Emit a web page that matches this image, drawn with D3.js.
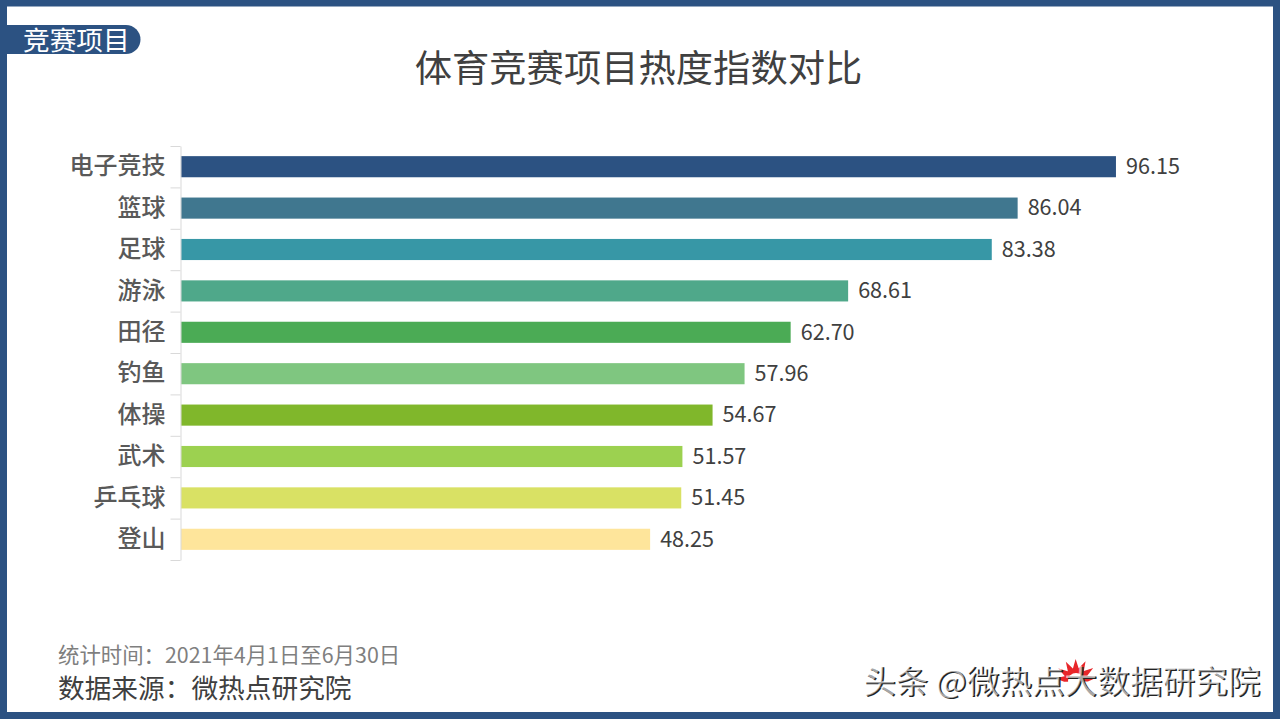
<!DOCTYPE html>
<html><head><meta charset="utf-8">
<script src="https://cdn.jsdelivr.net/npm/d3@7/dist/d3.min.js"></script>
<style>html,body{margin:0;padding:0;background:#fff;overflow:hidden}svg{display:block}text{font-family:"Noto Sans CJK SC","Noto Sans",sans-serif}</style>
</head><body><svg id="c" width="1280" height="720"></svg>
<script>
const categories=["电子竞技","篮球","足球","游泳","田径","钓鱼","体操","武术","乒乓球","登山"];
const values=[96.15,86.04,83.38,68.61,62.70,57.96,54.67,51.57,51.45,48.25];
const barColors=["#2c5282","#40778f","#3797a6","#4fa88a","#4bab55","#7fc680","#80b72b","#9cd150","#d9e164","#fee59b"];
const titleText="体育竞赛项目热度指数对比";
const badgeText="竞赛项目";
const periodText="统计时间:2021年4月1日至6月30日";
const sourceText="数据来源:微热点研究院";
const watermarkText="头条 @微热点大数据研究院";
const combAngles=[-85,-57,-29,-1,27,55,83];

const svg=d3.select("#c");
const frame="#2c5282";
svg.append("rect").attr("x",3.5).attr("y",3).attr("width",1273).attr("height",712.5)
  .attr("fill","#fff").attr("stroke",frame).attr("stroke-width",7);

svg.append("path").attr("d","M7 25H126a14.5 14.5 0 0 1 0 29H7Z").attr("fill",frame);
svg.append("text").attr("x",23).attr("y",50).attr("font-size",26.7).attr("fill","#fff").text(badgeText);
svg.append("text").attr("x",638.5).attr("y",82).attr("text-anchor","middle").attr("font-size",37.3).attr("fill","#404040").text(titleText);

const x=d3.scaleLinear().domain([0,100]).range([180.9,1153.4]);
const y=d3.scaleBand().domain(categories).range([146,560]).paddingInner(0.49).paddingOuter(0.245);
const step=y.step();

const g=svg.append("g");
g.selectAll("rect.bar").data(categories).join("rect").attr("class","bar")
  .attr("x",x(0)).attr("y",d=>y(d)).attr("width",(d,i)=>x(values[i])-x(0)).attr("height",y.bandwidth())
  .attr("fill",(d,i)=>barColors[i]);

const axis=d3.axisLeft(y).tickSize(0).tickPadding(15);
const ax=g.append("g").attr("transform","translate(180.5,0)").call(axis);
ax.select(".domain").attr("stroke","#d9d9d9").attr("stroke-width",1);
ax.selectAll("text").attr("font-size",24).attr("fill","#595959").attr("font-weight",500).attr("font-family",'"Noto Sans CJK SC"');
const seps=d3.range(categories.length+1).map(i=>146.5+i*step);
g.selectAll("line.sep").data(seps).join("line").attr("class","sep")
  .attr("x1",170.5).attr("x2",180.5).attr("y1",d=>d).attr("y2",d=>d).attr("stroke","#d9d9d9");

g.selectAll("text.val").data(categories).join("text").attr("class","val")
  .attr("x",(d,i)=>x(values[i])+10).attr("y",d=>y(d)+y.bandwidth()/2-0.5).attr("dy","0.36em")
  .attr("font-size",21.6).attr("fill","#404040").text((d,i)=>values[i].toFixed(2));

svg.append("text").attr("x",58).attr("y",663).attr("font-size",21.4).attr("fill","#7f7f7f").text(periodText.replace(":","\uFF1A"));
svg.append("text").attr("x",58).attr("y",698).attr("font-size",26.7).attr("fill","#404040").text(sourceText.replace(":","\uFF1A"));

// watermark: red comb behind dark-offset text with a white overlay, as in the reference
const wm=svg.append("g");
const comb=d3.lineRadial().curve(d3.curveLinearClosed).angle(d=>d[0]).radius(d=>d[1]);
const pts=[];
combAngles.forEach(a=>{const r=a*Math.PI/180;pts.push([r-0.24,12],[r,21],[r+0.24,12]);});
wm.append("path").attr("transform","translate(1076,680)").attr("d",comb(pts)).attr("fill","#e8262a");
wm.append("circle").attr("cx",1076).attr("cy",681).attr("r",8).attr("fill","#fff");
wm.append("text").attr("x",864.5).attr("y",693.5).attr("font-size",31.5).attr("fill","#222").attr("textLength",397).attr("lengthAdjust","spacingAndGlyphs").text(watermarkText);
wm.append("text").attr("x",863).attr("y",692.5).attr("font-size",31.5).attr("fill","#fff").attr("textLength",397).attr("lengthAdjust","spacingAndGlyphs").attr("opacity",0.6).text(watermarkText);
</script></body></html>
